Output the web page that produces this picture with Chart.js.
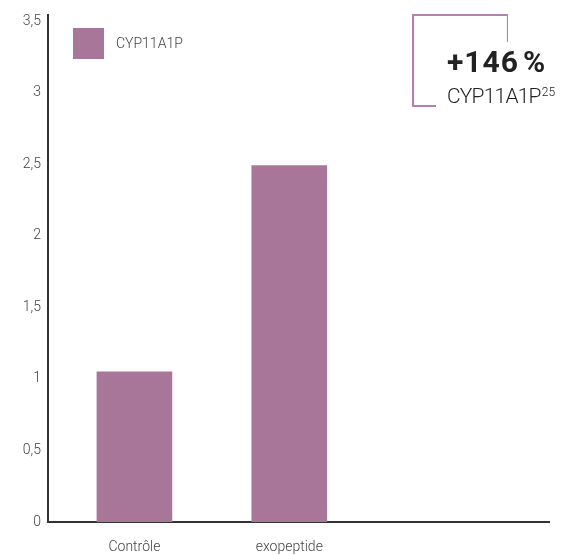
<!DOCTYPE html>
<html><head><meta charset="utf-8">
<script src="https://cdn.jsdelivr.net/npm/chart.js@4/dist/chart.umd.min.js"></script>
<style>
html,body{margin:0;padding:0;background:#fff;}
#wrap{position:relative;width:573px;height:555px;}
#box{position:absolute;left:412px;top:14px;width:96px;height:93px;}
#t1{position:absolute;left:447px;top:44px;font:700 30px Roboto,'Liberation Sans',sans-serif;color:#222;letter-spacing:1px;white-space:nowrap;}
#t2{position:absolute;left:447px;top:84px;font:300 21px Roboto,'Liberation Sans',sans-serif;color:#222;letter-spacing:-0.8px;white-space:nowrap;}
#t2 sup{font-size:12px;vertical-align:top;position:relative;top:1px;letter-spacing:0;margin-left:1px;}
</style></head><body>
<div id="wrap">
<canvas id="c" width="573" height="555"></canvas>
<svg id="box" width="96" height="93" viewBox="0 0 96 93"><polyline points="96,28 96,1 1,1 1,92 24,92" fill="none" stroke="#b382a8" stroke-width="2.2"/></svg>
<div id="t1">+146&#8202;%</div>
<div id="t2">CYP11A1P<sup>25</sup></div>
</div>
<script>
const categories = ['Contrôle', 'exopeptide'];
const seriesName = 'CYP11A1P';
const values = [1.05, 2.49];
const yTicks = [0, 0.5, 1, 1.5, 2, 2.5, 3, 3.5];
const barColor = '#a87699';
const font = "Roboto, 'Liberation Sans', sans-serif";

const legendPlugin = {
  id: 'insideLegend',
  afterDraw(chart) {
    const ctx = chart.ctx;
    const ds = chart.data.datasets[0];
    ctx.save();
    ctx.fillStyle = ds.backgroundColor;
    ctx.fillRect(73, 28, 31, 31);
    ctx.fillStyle = '#444';
    ctx.font = '300 14px ' + font;
    ctx.textBaseline = 'middle';
    ctx.fillText(ds.label, 116, 44);
    ctx.restore();
  }
};

new Chart(document.getElementById('c'), {
  type: 'bar',
  data: {
    datasets: [{
      label: seriesName,
      data: values.map((v, i) => ({x: i, y: v})),
      backgroundColor: barColor,
      barThickness: 75
    }]
  },
  options: {
    responsive: false,
    animation: false,
    layout: {padding: {top: 14, right: 24, left: 0, bottom: 0}},
    plugins: {legend: {display: false}, tooltip: {enabled: false}},
    scales: {
      x: {
        type: 'linear',
        offset: false,
        min: -0.558, max: 2.677,
        grid: {display: false, drawTicks: false, offset: false},
        border: {color: '#333', width: 2},
        afterFit(s) { s.height = 33; },
        afterBuildTicks(s) { s.ticks = categories.map((c, i) => ({value: i})); },
        ticks: {
          padding: 17, color: '#444', font: {family: font, size: 14, weight: '300'},
          maxRotation: 0, autoSkip: false,
          callback: v => categories[v] ?? ''
        }
      },
      y: {
        min: 0, max: 3.54,
        grid: {display: false, drawTicks: false},
        border: {color: '#333', width: 2},
        afterFit(s) { s.width = 48; },
        afterBuildTicks(s) { s.ticks = yTicks.map(v => ({value: v})); },
        ticks: {
          padding: 7, color: '#444', font: {family: font, size: 14, weight: '300'},
          callback: v => String(v).replace('.', ',')
        }
      }
    }
  },
  plugins: [legendPlugin]
});
</script>
</body></html>
